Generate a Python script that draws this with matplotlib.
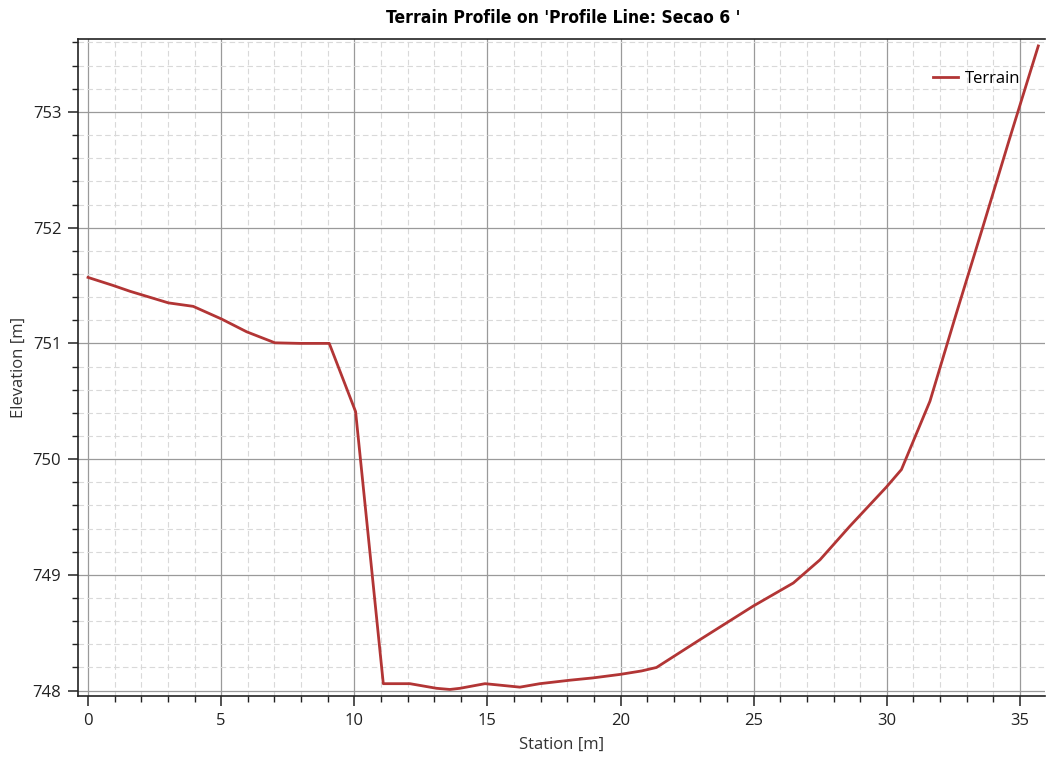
import matplotlib.pyplot as plt
from matplotlib.ticker import MultipleLocator

# Terrain profile
station = [0.0, 0.95, 1.58, 3.02, 3.95, 5.02, 5.96, 7.02, 7.96, 9.06, 10.05,
           11.09, 12.09, 12.34, 13.09, 13.59, 13.97, 14.91, 15.35, 16.22, 16.97,
           18.1, 18.97, 19.98, 20.79, 21.35, 22.98, 24.98, 26.49, 27.49, 28.61,
           29.99, 30.55, 31.62, 32.6, 33.6, 34.6, 35.69]
elevation = [751.57, 751.50, 751.45, 751.35, 751.32, 751.21, 751.10, 751.005, 751.0, 751.0, 750.41,
             748.06, 748.06, 748.05, 748.02, 748.01, 748.02, 748.06, 748.05, 748.03, 748.06,
             748.09, 748.11, 748.14, 748.17, 748.20, 748.44, 748.73, 748.93, 749.13, 749.42,
             749.76, 749.91, 750.50, 751.25, 752.00, 752.76, 753.57]

fig = plt.figure(figsize=(10.46, 7.69), dpi=100)
ax = fig.add_axes([0.0746, 0.095, 0.9244, 0.854])

ax.plot(station, elevation, color='#b23535', lw=2.0, label='Terrain')

ax.set_xlim(-0.375, 35.94)
ax.set_ylim(747.954, 753.628)
ax.xaxis.set_major_locator(MultipleLocator(5))
ax.xaxis.set_minor_locator(MultipleLocator(1))
ax.yaxis.set_major_locator(MultipleLocator(1))
ax.yaxis.set_minor_locator(MultipleLocator(0.2))

ax.grid(which='major', color='#9a9a9a', lw=0.9, ls='-')
ax.grid(which='minor', color='#d9d9d9', lw=0.8, ls=(0, (5, 3)))
ax.set_axisbelow(True)

for s in ['left', 'bottom', 'top']:
    ax.spines[s].set_color('#222222')
    ax.spines[s].set_linewidth(1.2)
ax.spines['right'].set_visible(False)

ax.tick_params(which='major', length=7, width=1.1, color='#222222',
               labelsize=12, labelcolor='#222222', pad=5)
ax.tick_params(which='minor', length=4, width=1.0, color='#222222')

for lab in ax.get_xticklabels() + ax.get_yticklabels():
    lab.set_family('Open Sans')

ax.set_xlabel('Station [m]', family='Open Sans', fontsize=12, color='#333333', labelpad=6)
ax.set_ylabel('Elevation [m]', family='Open Sans', fontsize=12, color='#333333', labelpad=4)

fig.suptitle("Terrain Profile on 'Profile Line: Secao 6 '", x=0.538, y=0.988,
             fontsize=12.5, fontweight='bold', fontstretch='condensed')

leg = ax.legend(loc='upper right', frameon=False, prop={'family': 'Open Sans', 'size': 12},
                handlelength=1.5, handletextpad=0.4, bbox_to_anchor=(0.99, 0.975))

fig.savefig('out.png', dpi=100)
